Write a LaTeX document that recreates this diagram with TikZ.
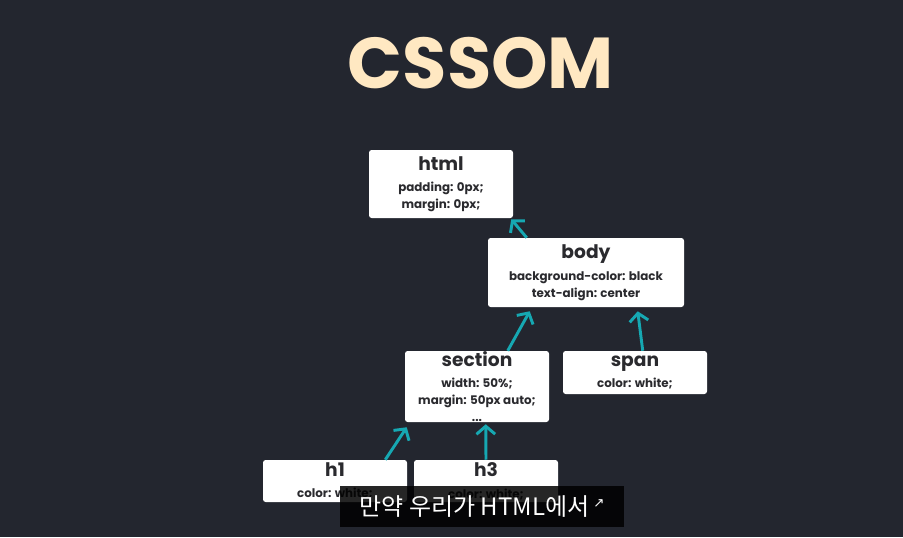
\documentclass[tikz,border=0pt]{standalone}
\usepackage{fontspec}
\setmainfont{Poppins}
\newfontfamily\cjkfont{Noto Sans CJK KR}
\newfontfamily\symfont{DejaVu Sans}
\usetikzlibrary{calc,arrows.meta}
\definecolor{slate}{RGB}{35,38,47}
\definecolor{cream}{RGB}{255,232,194}
\definecolor{cyanline}{RGB}{22,168,178}
\definecolor{ink}{RGB}{42,42,46}
\def\rulehead#1{{\fontsize{14}{16}\selectfont #1}\\[3.5pt]}
\tikzset{
	rule/.style={fill=white, rounded corners=2pt, inner sep=0pt, align=center, text=ink,
		font=\fontsize{8.9}{12.7}\selectfont\bfseries, minimum width=108pt},
	link/.style={cyanline, line width=2.2pt, -{Straight Barb[length=6pt,width=14pt]}},
	caption/.style={fill=black, fill opacity=0.85, text opacity=1, text=white, inner sep=0pt,
		minimum width=213pt, minimum height=30.75pt, font=\cjkfont\fontsize{18}{20}\selectfont}
}

\begin{document}
\begin{tikzpicture}[x=0.75pt, y=-0.75pt]
		%%%%% START %%%%%
		
		\fill[slate] (0, 0) rectangle (903, 537);
		\useasboundingbox (0, 0) rectangle (903, 537);
		
		\node[text=cream, font=\fontsize{54}{60}\selectfont\bfseries] (title) at (481, 63) {CSSOM};
		
		\node[rule, minimum height=51pt] (html) at (441, 184) {\rulehead{html}padding: 0px;\\ margin: 0px;};
		\node[rule, minimum width=147pt, minimum height=51.75pt] (body) at (586, 272.5) {\rulehead{body}background-color: black\\ text-align: center};
		\node[rule, minimum height=53.25pt] (section) at (477, 386.5) {\rulehead{section}width: 50\%;\\ margin: 50px auto;\\ ...};
		\node[rule, minimum height=32.25pt] (span) at (635, 372.5) {\rulehead{span}color: white;};
		\node[rule, minimum height=31.5pt] (h1) at (335, 481) {\rulehead{h1}color: white;};
		\node[rule, minimum height=31.5pt] (h3) at (486, 481) {\rulehead{h3}color: white;};
		
		\draw[link] ($(body.north west)+(39, 0)$) -- ($(html.south east)+(-2, 1)$);
		\draw[link] ($(section.north west)+(103, 0)$) -- ($(body.south west)+(42, 4)$);
		\draw[link] ($(span.north west)+(80, 0)$) -- ($(body.south west)+(150, 4)$);
		\draw[link] ($(h1.north east)+(-22, 0)$) -- ($(section.south west)+(2, 5)$);
		\draw[link] (h3.north) -- ($(section.south west)+(81, 2)$);
		
		\node[caption] (subtitle) at (482, 506.5) {만약 우리가 HTML에서\,\raisebox{6pt}{\symfont\fontsize{10}{11}\selectfont ↗}};
		
		%%%%% END %%%%%
	\end{tikzpicture}
\end{document}
